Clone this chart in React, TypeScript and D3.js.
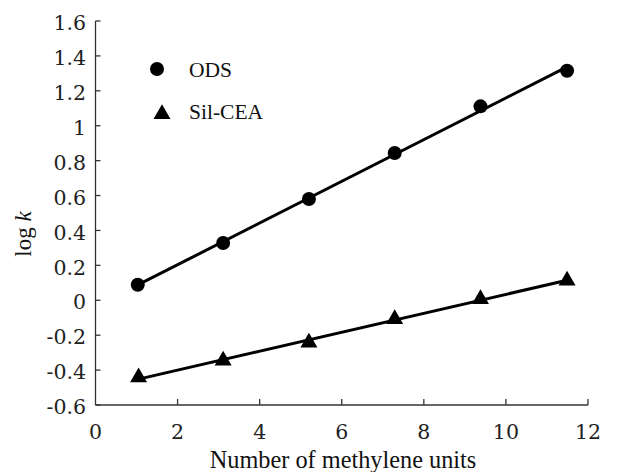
import React from "react";
import * as d3 from "d3";

const xTicks = [0, 2, 4, 6, 8, 10, 12];
const yTicks = [-0.6, -0.4, -0.2, 0, 0.2, 0.4, 0.6, 0.8, 1, 1.2, 1.4, 1.6];
const yTickLabels = ["-0.6", "-0.4", "-0.2", "0", "0.2", "0.4", "0.6", "0.8", "1", "1.2", "1.4", "1.6"];

const odsX = [1.03, 3.11, 5.2, 7.29, 9.38, 11.49];
const odsY = [0.089, 0.328, 0.58, 0.844, 1.111, 1.315];
const silX = [1.05, 3.11, 5.2, 7.29, 9.38, 11.49];
const silY = [-0.442, -0.345, -0.242, -0.108, 0.007, 0.113];

const seriesNames = ["ODS", "Sil-CEA"];

const W = 624;
const H = 472;
const FONT = "Liberation Serif";
const TICKFONT = "DejaVu Serif";

function fit(xs: number[], ys: number[]) {
  const mx = d3.mean(xs) as number;
  const my = d3.mean(ys) as number;
  let sxy = 0;
  let sxx = 0;
  xs.forEach((x, i) => {
    sxy += (x - mx) * (ys[i] - my);
    sxx += (x - mx) * (x - mx);
  });
  const b = sxy / sxx;
  const a = my - b * mx;
  const x0 = d3.min(xs) as number;
  const x1 = d3.max(xs) as number;
  return [
    [x0, a + b * x0],
    [x1, a + b * x1],
  ] as [number, number][];
}

export default function App() {
  const x = d3.scaleLinear().domain([0, 12]).range([95.5, 588]);
  const y = d3.scaleLinear().domain([-0.6, 1.6]).range([405, 21]);
  const line = d3
    .line<[number, number]>()
    .x((d) => x(d[0]))
    .y((d) => y(d[1]));

  const odsFit = fit(odsX, odsY);
  const silFit = fit(silX, silY);
  const tri = d3.symbol().type(d3.symbolTriangle).size(125)() as string;

  const axisColor = "#333";
  const ts = { fontFamily: FONT };
  const tk = { fontFamily: TICKFONT };

  return (
    <svg
      width={W}
      height={H}
      style={{ position: "absolute", left: 0, top: 0, background: "#fff", fontFamily: FONT }}
    >
      <rect x={0} y={0} width={W} height={H} fill="#fff" />
      {/* axes */}
      <line x1={x(0)} x2={x(0)} y1={y(1.6)} y2={y(-0.6)} stroke={axisColor} strokeWidth={1.3} />
      <line x1={x(0)} x2={x(12)} y1={y(-0.6)} y2={y(-0.6)} stroke={axisColor} strokeWidth={1.3} />
      {yTicks.map((t, i) => (
        <g key={"yt" + i}>
          <line x1={x(0)} x2={x(0) + 5} y1={y(t)} y2={y(t)} stroke={axisColor} strokeWidth={1.3} />
          <text x={86} y={y(t)} dy="0.45em" textAnchor="end" fontSize={20.5} fill="#222" style={tk}>
            {yTickLabels[i]}
          </text>
        </g>
      ))}
      {xTicks.map((t, i) => (
        <g key={"xt" + i}>
          {t !== 0 && (
            <line x1={x(t)} x2={x(t)} y1={y(-0.6)} y2={y(-0.6) - 6} stroke={axisColor} strokeWidth={1.3} />
          )}
          <text x={x(t)} y={439} textAnchor="middle" fontSize={20.5} fill="#222" style={tk}>
            {String(t)}
          </text>
        </g>
      ))}
      {/* axis titles */}
      <text x={343} y={468} textAnchor="middle" fontSize={24.3} fill="#111" style={ts}>
        Number of methylene units
      </text>
      <text transform={`translate(31,234) rotate(-90)`} textAnchor="middle" fontSize={23} fill="#111" style={ts}>
        log <tspan fontStyle="italic">k</tspan>
      </text>
      {/* fit lines */}
      <path d={line(odsFit) as string} fill="none" stroke="#000" strokeWidth={3} />
      <path d={line(silFit) as string} fill="none" stroke="#000" strokeWidth={3} />
      {/* points */}
      {odsX.map((v, i) => (
        <circle key={"o" + i} cx={x(v)} cy={y(odsY[i])} r={7} fill="#000" />
      ))}
      {silX.map((v, i) => (
        <path key={"s" + i} d={tri} transform={`translate(${x(v)},${y(silY[i])})`} fill="#000" />
      ))}
      {/* legend */}
      <circle cx={157} cy={69} r={7} fill="#000" />
      <text x={189} y={76.5} fontSize={21.5} fill="#111" style={ts}>
        {seriesNames[0]}
      </text>
      <path d={tri} transform="translate(162,114)" fill="#000" />
      <text x={189} y={119} fontSize={21.5} fill="#111" style={ts}>
        {seriesNames[1]}
      </text>
    </svg>
  );
}
